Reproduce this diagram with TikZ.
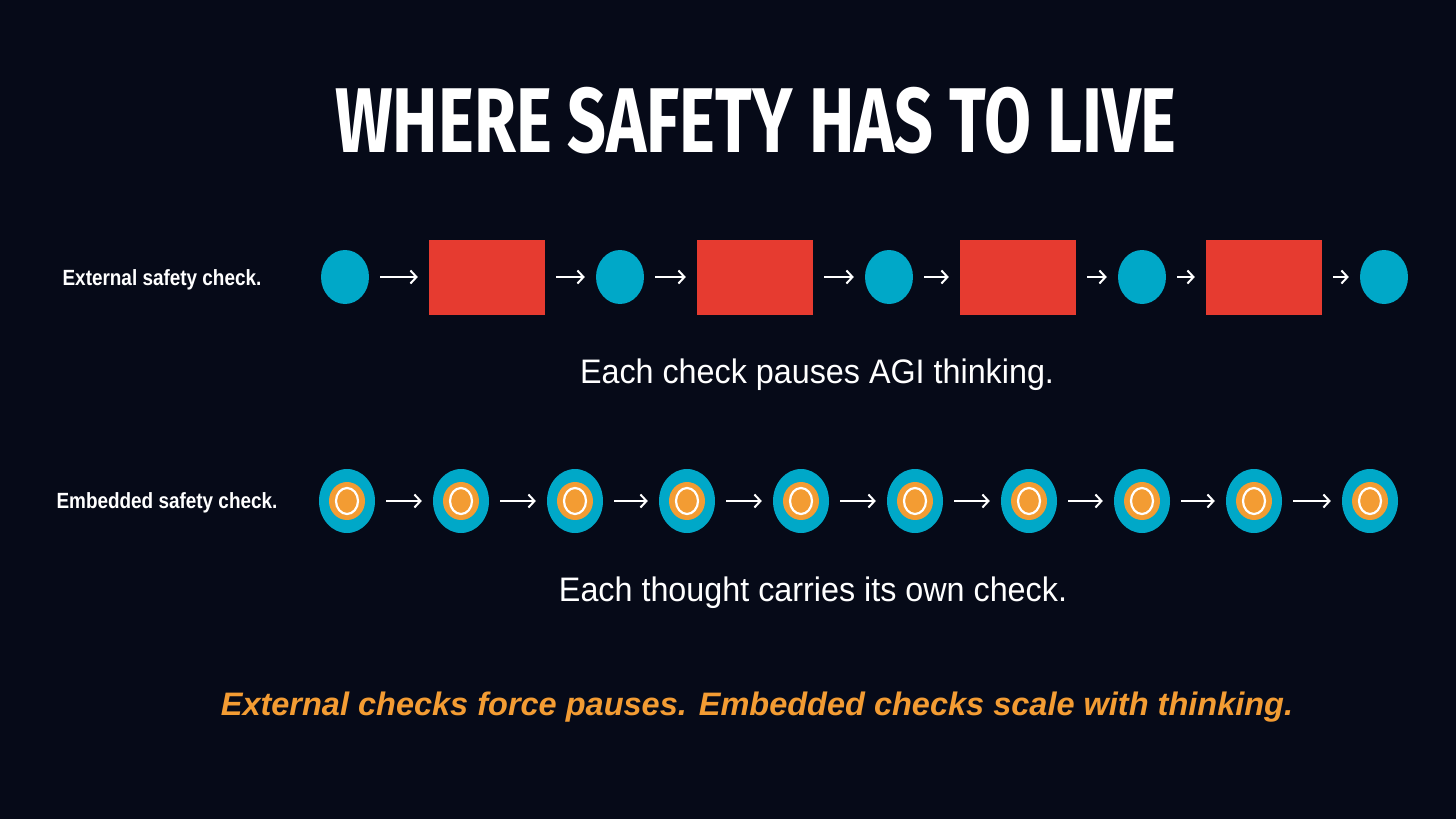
\documentclass[tikz,border=0pt]{standalone}
\usepackage{fontspec}
\setmainfont{Liberation Sans}
\newfontfamily\titlefont[FakeStretch=0.74]{Fira Sans}
\usetikzlibrary{positioning, arrows.meta}
\definecolor{bgcol}{HTML}{060A18}
\definecolor{cyancol}{HTML}{00A8C8}
\definecolor{redcol}{HTML}{E63B30}
\definecolor{orangecol}{HTML}{F39C33}
\tikzset{
  thought/.style={ellipse, fill=cyancol, minimum width=48pt, minimum height=54pt, inner sep=0pt},
  bigthought/.style={ellipse, fill=cyancol, minimum width=56pt, minimum height=64pt, inner sep=0pt},
  checkbox/.style={rectangle, fill=redcol, minimum width=116pt, minimum height=75pt, inner sep=0pt},
  flow/.style={-{Straight Barb[length=6pt,width=13pt]}, white, line width=2pt, shorten <=11pt, shorten >=11pt},
  sidelabel/.style={text=white, font=\fontsize{22}{22}\selectfont\bfseries\addfontfeature{FakeStretch=0.86}},
}
\usetikzlibrary{shapes.geometric}
\begin{document}
\begin{tikzpicture}[x=1pt,y=-1pt]
    \fill[bgcol] (0,0) rectangle (1456,819);
    \useasboundingbox (0,0) rectangle (1456,819);
    \node[text=white] (title) at (756,121) {\titlefont\fontsize{92}{92}\selectfont\bfseries WHERE SAFETY HAS TO LIVE};
    % external row
    \node[sidelabel] (extlabel) at (162,280) {External safety check.};
    \node[thought] (e0) at (345,277) {};
    \node[checkbox] (c1) at (487,277) {};
    \node[thought] (e1) at (620,277) {};
    \node[checkbox] (c2) at (755,277) {};
    \node[thought] (e2) at (889,277) {};
    \node[checkbox] (c3) at (1018,277) {};
    \node[thought] (e3) at (1142,277) {};
    \node[checkbox] (c4) at (1264,277) {};
    \node[thought] (e4) at (1384,277) {};
    \foreach \a/\b in {e0/c1, c1/e1, e1/c2, c2/e2, e2/c3, c3/e3, e3/c4, c4/e4}
        \draw[flow] (\a) -- (\b);
    \node[text=white, font=\fontsize{34}{34}\selectfont\addfontfeature{FakeStretch=0.95}] (extnote) at (817,375) {Each check pauses AGI thinking.};
    % embedded row
    \node[sidelabel] (emblabel) at (167,503) {Embedded safety check.};
    \foreach \x [count=\i] in {347,461,575,687,801,915,1029,1142,1254,1370} {
        \node[bigthought] (b\i) at (\x,501) {};
        \fill[orangecol] (b\i) ellipse (18 and 19);
        \draw[white, line width=2.2pt, fill=orangecol] (b\i) ellipse (11 and 13);
    }
    \foreach \i [evaluate=\i as \j using int(\i+1)] in {1,...,9}
        \draw[flow] (b\i) -- (b\j);
    \node[text=white, font=\fontsize{34}{34}\selectfont\addfontfeature{FakeStretch=0.95}] (embnote) at (813,593) {Each thought carries its own check.};
    \node[text=orangecol, font=\fontsize{32.5}{32.5}\selectfont\bfseries\itshape] (summary) at (757,707) {External checks force pauses. Embedded checks scale with thinking.};
\end{tikzpicture}
\end{document}
